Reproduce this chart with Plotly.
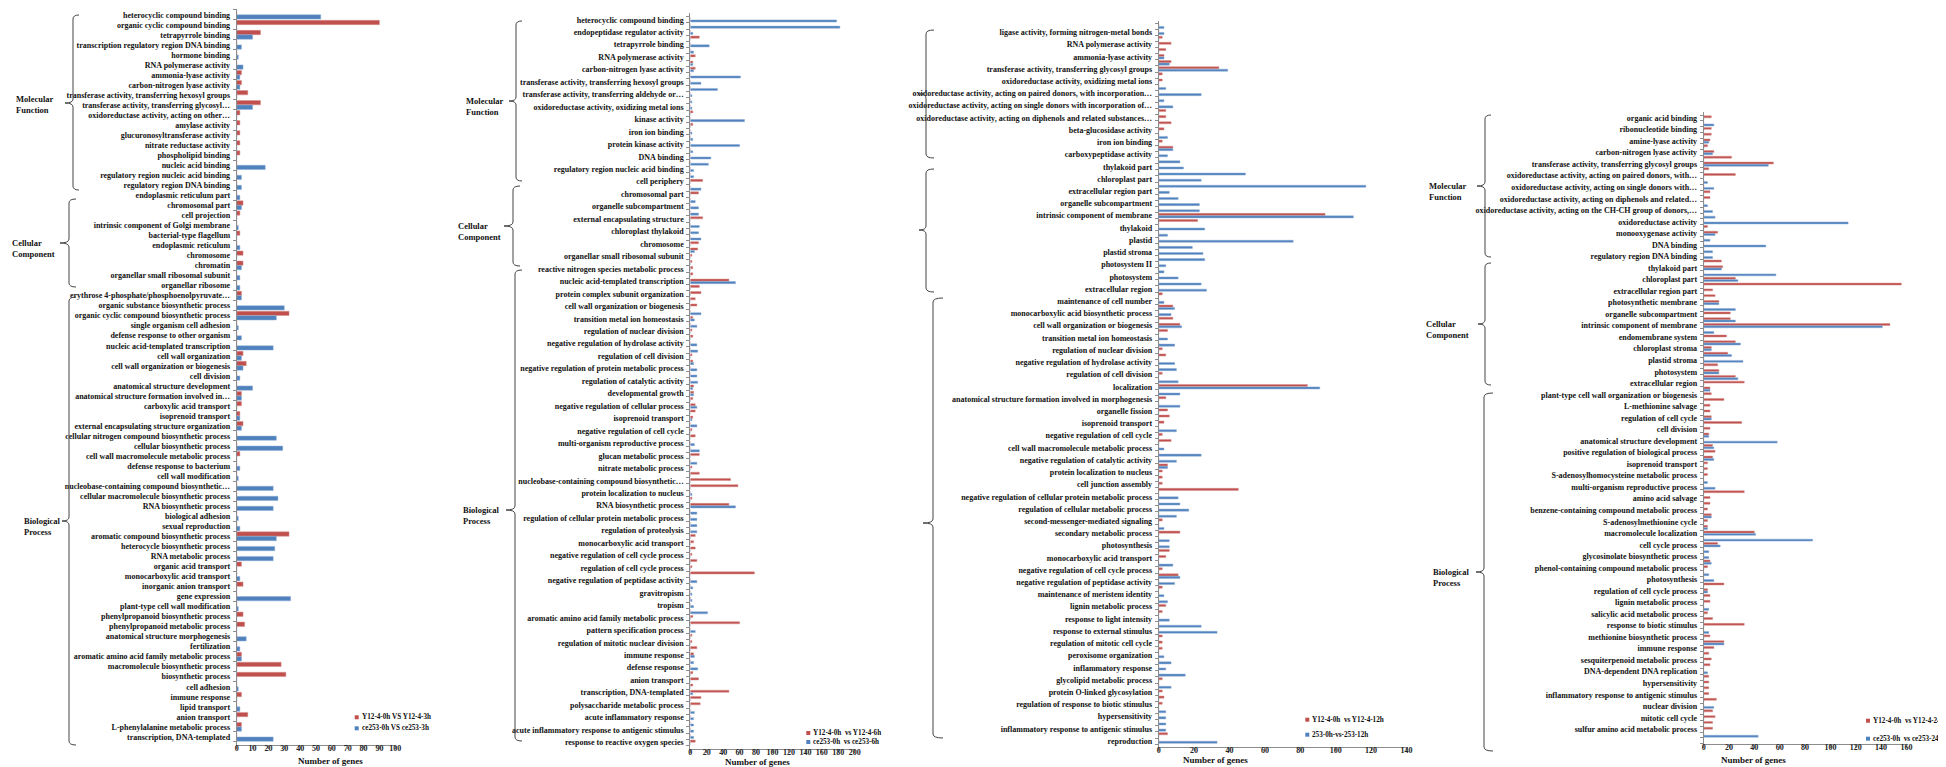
import plotly.graph_objects as go

W, H = 1946, 767
RED, BLUE = "#C0504D", "#4F81BD"
RED_EDGE, BLUE_EDGE = "#D48E8C", "#8EAED6"
AXC = "#8C8C8C"
FONT = "Liberation Serif"

# ---------------- Panel 1 data ----------------
p1_labels = [
    "heterocyclic compound binding", "organic cyclic compound binding", "tetrapyrrole binding",
    "transcription regulatory region DNA binding", "hormone binding", "RNA polymerase activity",
    "ammonia-lyase activity", "carbon-nitrogen lyase activity",
    "transferase activity, transferring hexosyl groups", "transferase activity, transferring glycosyl…",
    "oxidoreductase activity, acting on other…", "amylase activity", "glucuronosyltransferase activity",
    "nitrate reductase activity", "phospholipid binding", "nucleic acid binding",
    "regulatory region nucleic acid binding", "regulatory region DNA binding",
    "endoplasmic reticulum part", "chromosomal part", "cell projection",
    "intrinsic component of Golgi membrane", "bacterial-type flagellum", "endoplasmic reticulum",
    "chromosome", "chromatin", "organellar small ribosomal subunit", "organellar ribosome",
    "erythrose 4-phosphate/phosphoenolpyruvate…", "organic substance biosynthetic process",
    "organic cyclic compound biosynthetic process", "single organism cell adhesion",
    "defense response to other organism", "nucleic acid-templated transcription", "cell wall organization",
    "cell wall organization or biogenesis", "cell division", "anatomical structure development",
    "anatomical structure formation involved in…", "carboxylic acid transport", "isoprenoid transport",
    "external encapsulating structure organization", "cellular nitrogen compound biosynthetic process",
    "cellular biosynthetic process", "cell wall macromolecule metabolic process",
    "defense response to bacterium", "cell wall modification", "nucleobase-containing compound biosynthetic…",
    "cellular macromolecule biosynthetic process", "RNA biosynthetic process", "biological adhesion",
    "sexual reproduction", "aromatic compound biosynthetic process", "heterocycle biosynthetic process",
    "RNA metabolic process", "organic acid transport", "monocarboxylic acid transport",
    "inorganic anion transport", "gene expression", "plant-type cell wall modification",
    "phenylpropanoid biosynthetic process", "phenylpropanoid metabolic process",
    "anatomical structure morphogenesis", "fertilization", "aromatic amino acid family metabolic process",
    "macromolecule biosynthetic process", "biosynthetic process", "cell adhesion", "immune response",
    "lipid transport", "anion transport", "L-phenylalanine metabolic process", "transcription, DNA-templated",
]
p1_red = [0, 90, 15, 0, 0, 0, 3, 3, 7, 15, 2, 2, 2, 2, 2, 0, 0, 0,
          0, 4, 2, 0, 2, 0, 4, 4, 0, 0,
          3, 0, 33, 0, 0, 0, 4, 6, 0, 0, 3, 3, 2, 4, 0, 0, 2, 0, 0, 0, 0, 0, 0, 0,
          33, 0, 0, 3, 0, 4, 0, 0, 4, 5, 0, 0, 3, 28, 31, 0, 3, 0, 7, 3, 0]
p1_blue = [53, 0, 10, 3, 1, 4, 2, 2, 0, 10, 0, 0, 0, 0, 0, 18, 3, 3,
           2, 3, 0, 1, 0, 2, 0, 3, 2, 2,
           3, 30, 25, 1, 3, 23, 3, 4, 2, 10, 3, 0, 2, 3, 25, 29, 0, 2, 1, 23, 26, 23, 1, 2,
           25, 24, 23, 0, 2, 0, 34, 1, 0, 0, 6, 2, 3, 0, 0, 1, 0, 2, 0, 3, 23]
p1_legend = ["Y12-4-0h VS Y12-4-3h", "ce253-0h VS ce253-3h"]

# ---------------- Panel 2 data (labels on every other category) ----------------
p2_labels = [
    "heterocyclic compound binding", "endopeptidase regulator activity", "tetrapyrrole binding",
    "RNA polymerase activity", "carbon-nitrogen lyase activity",
    "transferase activity, transferring hexosyl groups", "transferase activity, transferring aldehyde or…",
    "oxidoreductase activity, oxidizing metal ions", "kinase activity", "iron ion binding",
    "protein kinase activity", "DNA binding", "regulatory region nucleic acid binding",
    "cell periphery", "chromosomal part", "organelle subcompartment", "external encapsulating structure",
    "chloroplast thylakoid", "chromosome", "organellar small ribosomal subunit",
    "reactive nitrogen species metabolic process", "nucleic acid-templated transcription",
    "protein complex subunit organization", "cell wall organization or biogenesis",
    "transition metal ion homeostasis", "regulation of nuclear division",
    "negative regulation of hydrolase activity", "regulation of cell division",
    "negative regulation of protein metabolic process", "regulation of catalytic activity",
    "developmental growth", "negative regulation of cellular process", "isoprenoid transport",
    "negative regulation of cell cycle", "multi-organism reproductive process", "glucan metabolic process",
    "nitrate metabolic process", "nucleobase-containing compound biosynthetic…",
    "protein localization to nucleus", "RNA biosynthetic process",
    "regulation of cellular protein metabolic process", "regulation of proteolysis",
    "monocarboxylic acid transport", "negative regulation of cell cycle process",
    "regulation of cell cycle process", "negative regulation of peptidase activity", "gravitropism",
    "tropism", "aromatic amino acid family metabolic process", "pattern specification process",
    "regulation of mitotic nuclear division", "immune response", "defense response", "anion transport",
    "transcription, DNA-templated", "polysaccharide metabolic process", "acute inflammatory response",
    "acute inflammatory response to antigenic stimulus", "response to reactive oxygen species",
]
p2_red = [0, 0, 0, 11, 0, 0, 6, 3, 6, 0,
          0, 0, 0, 0, 0, 3, 0, 3, 0, 0,
          0, 0, 0, 0, 0, 0, 15, 0, 10, 0,
          0, 0, 15, 0, 0, 0, 10, 9, 2, 2,
          3, 3, 47, 11, 13, 6, 8, 0, 3, 0,
          2, 3, 0, 0, 2, 3, 0, 0, 0, 4,
          4, 3, 6, 6, 3, 0, 2, 6, 0, 0,
          11, 0, 2, 11, 49, 58, 0, 2, 47, 0,
          0, 0, 0, 6, 4, 6, 2, 8, 2, 78,
          0, 0, 0, 0, 0, 0, 3, 60, 0, 2,
          2, 8, 4, 0, 0, 3, 10, 3, 47, 13,
          12, 0, 0, 0, 0, 0, 6]
p2_blue = [178, 182, 3, 0, 23, 4, 0, 3, 4, 61,
           13, 33, 2, 2, 2, 0, 66, 0, 2, 3,
           60, 3, 25, 22, 4, 4, 0, 13, 0, 6,
           10, 10, 0, 11, 10, 13, 0, 5, 0, 0,
           0, 0, 55, 0, 0, 0, 0, 13, 5, 8,
           0, 0, 8, 9, 0, 4, 8, 8, 9, 3,
           4, 0, 8, 0, 2, 8, 0, 0, 5, 11,
           0, 8, 0, 0, 0, 0, 2, 0, 55, 8,
           8, 8, 8, 0, 0, 0, 0, 0, 0, 0,
           8, 3, 2, 2, 4, 21, 0, 0, 6, 0,
           0, 0, 5, 4, 9, 0, 0, 0, 3, 0,
           0, 5, 4, 4, 4, 4, 0]
p2_legend = ["Y12-4-0h  vs Y12-4-6h", "ce253-0h  vs ce253-6h"]

# ---------------- Panel 3 data ----------------
p3_labels = [
    "ligase activity, forming nitrogen-metal bonds", "RNA polymerase activity", "ammonia-lyase activity",
    "transferase activity, transferring glycosyl groups", "oxidoreductase activity, oxidizing metal ions",
    "oxidoreductase activity, acting on paired donors, with incorporation…",
    "oxidoreductase activity, acting on single donors with incorporation of…",
    "oxidoreductase activity, acting on diphenols and related substances…",
    "beta-glucosidase activity", "iron ion binding", "carboxypeptidase activity",
    "thylakoid part", "chloroplast part", "extracellular region part", "organelle subcompartment",
    "intrinsic component of membrane", "thylakoid", "plastid", "plastid stroma", "photosystem II",
    "photosystem", "extracellular region",
    "maintenance of cell number", "monocarboxylic acid biosynthetic process",
    "cell wall organization or biogenesis", "transition metal ion homeostasis",
    "regulation of nuclear division", "negative regulation of hydrolase activity",
    "regulation of cell division", "localization",
    "anatomical structure formation involved in morphogenesis", "organelle fission",
    "isoprenoid transport", "negative regulation of cell cycle",
    "cell wall macromolecule metabolic process", "negative regulation of catalytic activity",
    "protein localization to nucleus", "cell junction assembly",
    "negative regulation of cellular protein metabolic process",
    "regulation of cellular metabolic process", "second-messenger-mediated signaling",
    "secondary metabolic process", "photosynthesis", "monocarboxylic acid transport",
    "negative regulation of cell cycle process", "negative regulation of peptidase activity",
    "maintenance of meristem identity", "lignin metabolic process", "response to light intensity",
    "response to external stimulus", "regulation of mitotic cell cycle", "peroxisome organization",
    "inflammatory response", "glycolipid metabolic process", "protein O-linked glycosylation",
    "regulation of response to biotic stimulus", "hypersensitivity",
    "inflammatory response to antigenic stimulus", "reproduction",
]
p3_red = [0,
          0, 2, 7, 4, 3, 7, 34, 2, 2, 0,
          0, 0, 0, 4, 4, 7, 3, 0, 2, 8,
          0, 0, 0, 0, 0, 0, 0, 0, 0, 0,
          94, 22, 0, 0, 0, 0, 0, 0, 0, 0,
          0, 0, 0, 2, 0, 8, 0, 8, 12, 5,
          0, 0, 2, 4, 0, 0, 2, 0, 84, 0,
          4, 0, 5, 6, 3, 0, 2, 7, 0, 0,
          0, 5, 2, 2, 2, 45, 0, 0, 0, 0,
          2, 0, 12, 0, 0, 6, 4, 0, 2, 11,
          0, 2, 0, 0, 4, 2, 0, 0, 0, 2,
          2, 2, 0, 0, 0, 0, 2, 0, 2, 3,
          2, 0, 0, 0, 0, 5, 0]
p3_blue = [3,
           3, 0, 0, 0, 3, 6, 39, 0, 0, 4,
           24, 3, 8, 0, 0, 0, 0, 5, 0, 8,
           5, 12, 14, 49, 24, 117, 6, 11, 23, 23,
           110, 0, 26, 5, 76, 19, 25, 26, 4, 3,
           11, 24, 27, 0, 3, 9, 7, 0, 13, 0,
           5, 9, 0, 0, 9, 10, 0, 11, 91, 12,
           0, 12, 0, 0, 0, 10, 0, 0, 3, 24,
           10, 5, 0, 0, 0, 0, 11, 12, 17, 10,
           0, 3, 0, 6, 6, 0, 0, 8, 0, 12,
           9, 0, 3, 5, 0, 0, 6, 24, 33, 0,
           0, 0, 3, 7, 4, 15, 0, 7, 0, 0,
           0, 4, 4, 4, 4, 0, 33]
p3_legend = ["Y12-4-0h  vs Y12-4-12h", "253-0h-vs-253-12h"]

# ---------------- Panel 4 data ----------------
p4_labels = [
    "organic acid binding", "ribonucleotide binding", "amine-lyase activity",
    "carbon-nitrogen lyase activity", "transferase activity, transferring glycosyl groups",
    "oxidoreductase activity, acting on paired donors, with…",
    "oxidoreductase activity, acting on single donors with…",
    "oxidoreductase activity, acting on diphenols and related…",
    "oxidoreductase activity, acting on the CH-CH group of donors,…",
    "oxidoreductase activity", "monooxygenase activity", "DNA binding", "regulatory region DNA binding",
    "thylakoid part", "chloroplast part", "extracellular region part", "photosynthetic membrane",
    "organelle subcompartment", "intrinsic component of membrane", "endomembrane system",
    "chloroplast stroma", "plastid stroma", "photosystem", "extracellular region",
    "plant-type cell wall organization or biogenesis", "L-methionine salvage", "regulation of cell cycle",
    "cell division", "anatomical structure development", "positive regulation of biological process",
    "isoprenoid transport", "S-adenosylhomocysteine metabolic process",
    "multi-organism reproductive process", "amino acid salvage",
    "benzene-containing compound metabolic process", "S-adenosylmethionine cycle",
    "macromolecule localization", "cell cycle process", "glycosinolate biosynthetic process",
    "phenol-containing compound metabolic process", "photosynthesis", "regulation of cell cycle process",
    "lignin metabolic process", "salicylic acid metabolic process", "response to biotic stimulus",
    "methionine biosynthetic process", "immune response", "sesquiterpenoid metabolic process",
    "DNA-dependent DNA replication", "hypersensitivity", "inflammatory response to antigenic stimulus",
    "nuclear division", "mitotic cell cycle", "sulfur amino acid metabolic process",
]
p4_red = [6, 0, 6, 6, 5, 3, 8, 22, 55, 4,
          25, 0, 0, 5, 5, 0, 0, 0, 0, 3,
          11, 0, 0, 0, 0, 14, 15, 0, 25, 156,
          7, 9, 12, 0, 21, 21, 147, 0, 18, 25,
          6, 19, 0, 11, 12, 25, 32, 5, 6, 16,
          5, 5, 6, 30, 5, 4, 0, 7, 9, 7,
          3, 3, 3, 0, 0, 32, 5, 5, 3, 6,
          3, 3, 40, 0, 11, 0, 0, 5, 3, 0,
          0, 16, 3, 5, 5, 0, 3, 7, 32, 0,
          5, 16, 8, 4, 6, 5, 0, 4, 4, 4,
          4, 10, 0, 7, 9, 7, 7, 0]
p4_blue = [0, 8, 0, 0, 4, 0, 7, 0, 51, 0,
           0, 3, 8, 0, 0, 3, 7, 9, 114, 0,
           9, 5, 49, 7, 7, 0, 14, 57, 27, 0,
           0, 0, 12, 25, 0, 25, 141, 8, 0, 29,
           6, 22, 31, 0, 12, 27, 0, 5, 0, 0,
           0, 0, 6, 0, 0, 4, 58, 8, 0, 8,
           0, 0, 0, 3, 9, 0, 0, 0, 0, 6,
           0, 3, 41, 86, 13, 4, 4, 6, 0, 4,
           8, 0, 3, 0, 0, 4, 0, 0, 0, 4,
           0, 16, 0, 0, 0, 0, 3, 0, 0, 0,
           0, 0, 8, 0, 0, 0, 0, 43]
p4_legend = ["Y12-4-0h  vs Y12-4-24h", "ce253-0h  vs ce253-24h"]

x_title = "Number of genes"

# ---------------- Geometry (pixels) ----------------
geom = [
    dict(x0=228.7, x1=387.3, xmax=100, dtick=10, y0=6.7, s=10.03, T=1, B=737,
         bw=0.43, roff=-0.44, boff=0.01, lstart=0, lstep=1,
         title=(288, 760), leg=(346.7, 709.3, 720.3)),
    dict(x0=682.3, x1=846.7, xmax=200, dtick=20, y0=11.7, s=6.23, T=5, B=741,
         bw=0.34, roff=-0.37, boff=0.03, lstart=0, lstep=2,
         title=(749, 761), leg=(798.3, 725, 734)),
    dict(x0=1150.7, x1=1398.5, xmax=140, dtick=20, y0=18.22, s=6.11, T=13, B=739,
         bw=0.34, roff=-0.37, boff=0.03, lstart=1, lstep=2,
         title=(1207, 758.5), leg=(1297.3, 711.7, 726.7)),
    dict(x0=1695.7, x1=1898.4, xmax=160, dtick=20, y0=110, s=5.767, T=104, B=736,
         bw=0.34, roff=-0.37, boff=0.03, lstart=0, lstep=2,
         title=(1780, 759), leg=(1858, 712.7, 730.7)),
]
data = [
    (p1_labels, p1_red, p1_blue, p1_legend),
    (p2_labels, p2_red, p2_blue, p2_legend),
    (p3_labels, p3_red, p3_blue, p3_legend),
    (p4_labels, p4_red, p4_blue, p4_legend),
]


def px(x):
    return x / W


def py(y):
    return 1 - y / H


fig = go.Figure()
annotations = []
shapes = []
layout = {}

for n, ((labels, red, blue, legend), g) in enumerate(zip(data, geom), start=1):
    sfx = "" if n == 1 else str(n)
    xa, ya = "x" + sfx, "y" + sfx
    ks = list(range(len(red)))
    fig.add_trace(go.Bar(y=ks, x=red, orientation="h", xaxis=xa, yaxis=ya, name=legend[0],
                         width=g["bw"], offset=g["roff"], showlegend=False,
                         marker=dict(color=RED, line=dict(color=RED_EDGE, width=0.5))))
    fig.add_trace(go.Bar(y=ks, x=blue, orientation="h", xaxis=xa, yaxis=ya, name=legend[1],
                         width=g["bw"], offset=g["boff"], showlegend=False,
                         marker=dict(color=BLUE, line=dict(color=BLUE_EDGE, width=0.5))))
    tickvals = [g["lstart"] + g["lstep"] * i for i in range(len(labels))]
    layout["xaxis" + sfx] = dict(
        domain=[px(g["x0"]), px(g["x1"])], range=[0, g["xmax"]], anchor=ya,
        showline=True, linecolor=AXC, linewidth=1, ticks="outside", ticklen=3, tickcolor=AXC,
        tick0=0, dtick=g["dtick"], showgrid=False, zeroline=False, automargin=False,
        ticklabelstandoff=-8,
        tickfont=dict(family=FONT, size=8, color="#222", weight="bold"))
    layout["yaxis" + sfx] = dict(
        domain=[py(g["B"]), py(g["T"])],
        range=[(g["B"] - g["y0"]) / g["s"], (g["T"] - g["y0"]) / g["s"]],
        anchor=xa, showline=True, linecolor=AXC, linewidth=1, showgrid=False, zeroline=False,
        tickmode="array", tickvals=tickvals, ticktext=labels,
        ticks="outside", ticklen=4, tickcolor="rgba(0,0,0,0)", automargin=False,
        minor=dict(tickmode="linear", tick0=0.5, dtick=1, ticks="outside", ticklen=3,
                   tickcolor=AXC, showgrid=False),
        tickfont=dict(family=FONT, size=8, color="#111", weight="bold"))
    # axis title
    annotations.append(dict(text=x_title, x=px(g["title"][0]), y=py(g["title"][1]),
                            xref="paper", yref="paper", showarrow=False,
                            font=dict(family=FONT, size=9, color="#111", weight="bold")))
    # legend entries: small colour square + text
    lx, ly1, ly2 = g["leg"]
    for txt, col, yy in ((legend[0], RED, ly1), (legend[1], BLUE, ly2)):
        shapes.append(dict(type="rect", xref="paper", yref="paper",
                           x0=px(lx), x1=px(lx + 4), y0=py(yy + 2), y1=py(yy - 2),
                           fillcolor=col, line=dict(width=0)))
        annotations.append(dict(
            text=txt, x=px(lx + 5), y=py(yy), xref="paper", yref="paper",
            xanchor="left", yanchor="middle", showarrow=False,
            font=dict(family=FONT, size=7.2, color="#111", weight="bold")))

# ---------------- Group labels and brackets ----------------
groups = [
    ("Molecular<br>Function", 6, 97), ("Cellular<br>Component", 2, 240), ("Biological<br>Process", 14, 518),
    ("Molecular<br>Function", 456, 98), ("Cellular<br>Component", 448, 223), ("Biological<br>Process", 453, 507),
    ("Molecular<br>Function", 1419, 183), ("Cellular<br>Component", 1416, 321), ("Biological<br>Process", 1423, 569),
]
for txt, gx, gy in groups:
    annotations.append(dict(text=txt, x=px(gx), y=py(gy), xref="paper", yref="paper",
                            xanchor="left", yanchor="middle", align="left", showarrow=False,
                            font=dict(family=FONT, size=8.5, color="#111", weight="bold")))

# (top, bottom, hook_x, vertical_x, tip_x, tip_y)
brackets = [
    (7, 182, 71, 65, 57, 95), (191, 279, 68, 61, 52, 235), (289, 737, 68, 61, 54, 513),
    (13, 173, 514, 508, 501, 93), (178, 258, 512, 505, 496, 218), (262, 733, 514, 507, 498, 502),
    (22, 150, 926, 918, 911, 86), (161, 284, 926, 918, 911, 222), (290, 730, 935, 925, 915, 515),
    (107, 249, 1483, 1477, 1469, 178), (255, 377, 1483, 1477, 1470, 316), (385, 743, 1485, 1476, 1468, 564),
]
r = 4
for top, bot, hx, vx, tx, ty in brackets:
    pts = (f"M {px(hx)},{py(top)} Q {px(vx)},{py(top)} {px(vx)},{py(top + r)} "
           f"L {px(vx)},{py(ty - r)} Q {px(vx)},{py(ty)} {px(tx)},{py(ty)} "
           f"Q {px(vx)},{py(ty)} {px(vx)},{py(ty + r)} "
           f"L {px(vx)},{py(bot - r)} Q {px(vx)},{py(bot)} {px(hx)},{py(bot)}")
    shapes.append(dict(type="path", path=pts, xref="paper", yref="paper",
                       line=dict(color="#444", width=1)))

fig.update_layout(
    width=W, height=H, margin=dict(l=0, r=0, t=0, b=0),
    paper_bgcolor="white", plot_bgcolor="white", barmode="overlay",
    annotations=annotations, shapes=shapes, showlegend=False,
    font=dict(family=FONT), **layout)

fig.write_html("out.html")
